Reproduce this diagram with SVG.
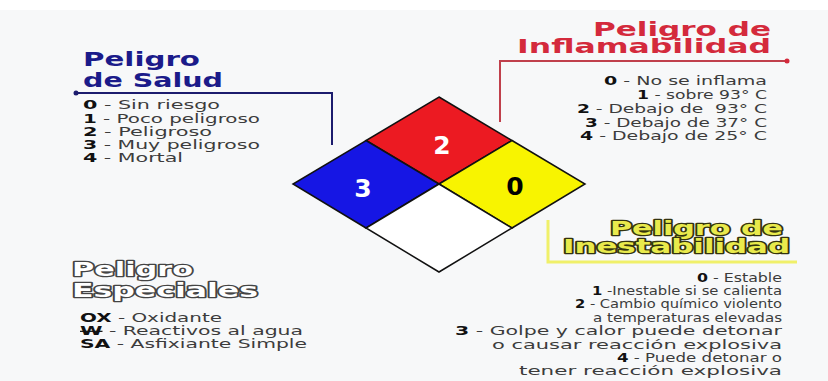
<svg xmlns="http://www.w3.org/2000/svg" width="828" height="381" viewBox="0 0 828 381">
<defs>
<style>
.title{font-family:"DejaVu Sans",sans-serif;font-weight:bold;font-size:20px}
.item{font-family:"DejaVu Sans",sans-serif;font-size:12px;fill:#3c3c3c}
.num{font-weight:bold;fill:#111}
.sq{stroke:#111;stroke-width:1.5;stroke-linejoin:miter}
.big{font-family:"DejaVu Sans",sans-serif;font-weight:bold;font-size:25px;text-anchor:middle}
.outlineW{fill:#ffffff;stroke:#444;stroke-width:2.6;paint-order:stroke;stroke-linejoin:round}
.outlineY{fill:#e9ea4c;stroke:#33330f;stroke-width:2.6;paint-order:stroke;stroke-linejoin:round}
</style>
</defs>
<rect width="828" height="381" fill="#f7f8f9"/>
<rect width="828" height="10" fill="#ffffff"/>

<g id="connectors" fill="none">
<polyline points="76,93 332,93 332,145" stroke="#1c1c6e" stroke-width="2"/>
<circle cx="76" cy="93" r="2.5" fill="#1c1c6e"/>
<polyline points="500,122 500,61 787,61" stroke="#c0404c" stroke-width="2"/>
<circle cx="787" cy="61" r="2.5" fill="#d42a3c"/>
<polyline points="548,220 548,262 797,262" stroke="#f0f06a" stroke-width="3"/>
</g>

<g id="diamond">
<polygon class="sq" points="439,97 512,140.5 439,184 366,140.5" fill="#ec1a22"/>
<polygon class="sq" points="366,140.5 439,184 366,228 293,184" fill="#1616e4"/>
<polygon class="sq" points="512,140.5 585,184 512,228 439,184" fill="#f8f400"/>
<polygon class="sq" points="439,184 512,228 439,272 366,228" fill="#ffffff"/>
<text class="big" x="442" y="154" fill="#ffffff">2</text>
<text class="big" x="363" y="197" fill="#ffffff">3</text>
<text class="big" x="515" y="195" fill="#000000">0</text>
</g>

<g id="salud">
<text class="title" fill="#1b1b8a" x="83" y="66" textLength="117" lengthAdjust="spacingAndGlyphs">Peligro</text>
<text class="title" fill="#1b1b8a" x="83" y="87" textLength="140" lengthAdjust="spacingAndGlyphs">de Salud</text>
<text class="item" x="83" y="109" textLength="137" lengthAdjust="spacingAndGlyphs"><tspan class="num">0</tspan> - Sin riesgo</text>
<text class="item" x="83" y="123" textLength="177" lengthAdjust="spacingAndGlyphs"><tspan class="num">1</tspan> - Poco peligroso</text>
<text class="item" x="83" y="136" textLength="129" lengthAdjust="spacingAndGlyphs"><tspan class="num">2</tspan> - Peligroso</text>
<text class="item" x="83" y="149" textLength="177" lengthAdjust="spacingAndGlyphs"><tspan class="num">3</tspan> - Muy peligroso</text>
<text class="item" x="83" y="162" textLength="100" lengthAdjust="spacingAndGlyphs"><tspan class="num">4</tspan> - Mortal</text>
</g>

<g id="inflamabilidad">
<text class="title" fill="#d42a3c" x="593" y="36" textLength="178" lengthAdjust="spacingAndGlyphs">Peligro de</text>
<text class="title" fill="#d42a3c" x="517" y="53" textLength="254" lengthAdjust="spacingAndGlyphs">Inflamabilidad</text>
<text class="item" x="604" y="85" textLength="163" lengthAdjust="spacingAndGlyphs"><tspan class="num">0</tspan> - No se inflama</text>
<text class="item" x="637" y="99" textLength="130" lengthAdjust="spacingAndGlyphs"><tspan class="num">1</tspan> - sobre 93° C</text>
<text class="item" x="577" y="113" textLength="190" lengthAdjust="spacingAndGlyphs" xml:space="preserve"><tspan class="num">2</tspan> - Debajo de  93° C</text>
<text class="item" x="585" y="127" textLength="182" lengthAdjust="spacingAndGlyphs"><tspan class="num">3</tspan> - Debajo de 37° C</text>
<text class="item" x="580" y="140" textLength="187" lengthAdjust="spacingAndGlyphs"><tspan class="num">4</tspan> - Debajo de 25° C</text>
</g>

<g id="inestabilidad">
<text class="title outlineY" x="610" y="235" textLength="173" lengthAdjust="spacingAndGlyphs">Peligro de</text>
<text class="title outlineY" x="563" y="253" textLength="227" lengthAdjust="spacingAndGlyphs">Inestabilidad</text>
<text class="item" x="697" y="282" textLength="85" lengthAdjust="spacingAndGlyphs"><tspan class="num">0</tspan> - Estable</text>
<text class="item" x="592" y="295" textLength="190" lengthAdjust="spacingAndGlyphs"><tspan class="num">1</tspan> -Inestable si se calienta</text>
<text class="item" x="575" y="308" textLength="207" lengthAdjust="spacingAndGlyphs"><tspan class="num">2</tspan> - Cambio químico violento</text>
<text class="item" x="593" y="322" textLength="189" lengthAdjust="spacingAndGlyphs">a temperaturas elevadas</text>
<text class="item" x="455" y="335" textLength="327" lengthAdjust="spacingAndGlyphs"><tspan class="num">3</tspan> - Golpe y calor puede detonar</text>
<text class="item" x="492" y="349" textLength="290" lengthAdjust="spacingAndGlyphs">o causar reacción explosiva</text>
<text class="item" x="617" y="362" textLength="165" lengthAdjust="spacingAndGlyphs"><tspan class="num">4</tspan> - Puede detonar o</text>
<text class="item" x="519" y="375" textLength="263" lengthAdjust="spacingAndGlyphs">tener reacción explosiva</text>
</g>

<g id="especiales">
<text class="title outlineW" x="72" y="276" textLength="121" lengthAdjust="spacingAndGlyphs">Peligro</text>
<text class="title outlineW" x="72" y="297" textLength="186" lengthAdjust="spacingAndGlyphs">Especiales</text>
<text class="item" x="80" y="322" textLength="142" lengthAdjust="spacingAndGlyphs"><tspan class="num">OX</tspan> - Oxidante</text>
<text class="item" x="80" y="335" textLength="223" lengthAdjust="spacingAndGlyphs"><tspan class="num" text-decoration="line-through">W</tspan> - Reactivos al agua</text>
<text class="item" x="80" y="348" textLength="227" lengthAdjust="spacingAndGlyphs"><tspan class="num">SA</tspan> - Asfixiante Simple</text>
</g>
</svg>
